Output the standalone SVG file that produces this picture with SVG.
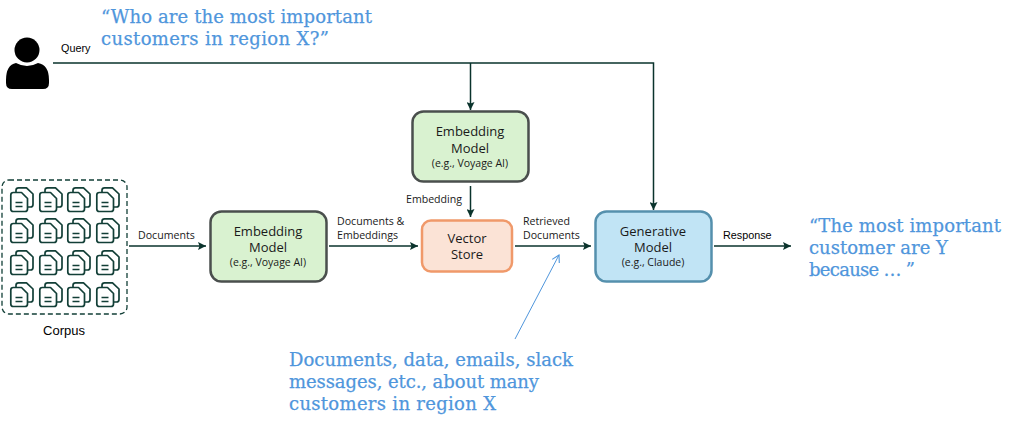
<svg xmlns="http://www.w3.org/2000/svg" width="1024" height="428" viewBox="0 0 1024 428">
<style>
.node{stroke-width:2.5}
.nt{font-family:"Open Sans","Noto Sans",sans-serif;font-size:13px;fill:#1a1a1a;text-anchor:middle}
.ns{font-family:"Open Sans","Noto Sans",sans-serif;font-size:10.5px;fill:#1a1a1a;text-anchor:middle}
.lb{font-family:"Open Sans","Noto Sans",sans-serif;font-size:10.6px;fill:#1a1a1a}
.q{font-family:"Liberation Sans",Arial,sans-serif;font-size:10.8px;fill:#000}
.bl{font-family:"DejaVu Serif",serif;font-size:18px;fill:#4f96dc;stroke:#4f96dc;stroke-width:.25}
.c{fill:none;stroke:#0a332c;stroke-width:1.5}
.d{fill:none;stroke:#123f37;stroke-width:1.7;stroke-linejoin:round}
</style>
<defs>
<marker id="a" markerUnits="userSpaceOnUse" markerWidth="9" markerHeight="8" refX="8" refY="4" orient="auto"><path d="M0 0L8 4L0 8L1.500 4Z" fill="#0a332c"/></marker>
<marker id="b" markerUnits="userSpaceOnUse" markerWidth="10" markerHeight="10" refX="8" refY="5" orient="auto"><path d="M1 1L8 5L1 9" fill="none" stroke="#4f96dc" stroke-width="1.100"/></marker>
<g id="doc">
<path class="d" d="M0.800 8Q0.800 5.500 3.300 5.500L11.500 5.500L17.500 11.500L17.500 22Q17.500 24.500 15 24.500L3.300 24.500Q0.800 24.500 0.800 22Z"/>
<path class="d" d="M6 5.500L6 3.300Q6 0.800 8.500 0.800L16.500 0.800L23 7L23 17.500Q23 20 20.500 20L17.500 20"/>
<path class="d" d="M5.500 15.500H12.500M5.500 19.500H12.500"/>
</g>
</defs>
<g id="connectors">
<path class="c" d="M53 63H653.500V210" marker-end="url(#a)"/>
<path class="c" d="M470.500 63V110" marker-end="url(#a)"/>
<path class="c" d="M470.500 186V217" marker-end="url(#a)"/>
<path class="c" d="M129 246H206" marker-end="url(#a)"/>
<path class="c" d="M329 246H418" marker-end="url(#a)"/>
<path class="c" d="M515 246H591" marker-end="url(#a)"/>
<path class="c" d="M714 246H791" marker-end="url(#a)"/>
<path d="M515 339L559 255" fill="none" stroke="#4f96dc" stroke-width="1" marker-end="url(#b)"/>
</g>
<text class="q" x="61" y="52">Query</text>
<text class="lb" x="138" y="239">Documents</text>
<text class="lb" x="337" y="225">Documents &amp;</text>
<text class="lb" x="337" y="239">Embeddings</text>
<text class="lb" x="406" y="203">Embedding</text>
<text class="lb" x="523" y="225">Retrieved</text>
<text class="lb" x="523" y="239">Documents</text>
<text class="q" x="723" y="239">Response</text>
<g id="user">
<circle cx="27" cy="50" r="12.500"/>
<path d="M16 63Q27 69 38 63Q49 65 49 80V83Q49 89 43 89H12Q6 89 6 83V80Q6 65 16 63Z"/>
</g>
<g id="corpus">
<rect x="2" y="180" width="125" height="134" rx="7" fill="none" stroke="#123f37" stroke-width="1.300" stroke-dasharray="5 3"/>
<use href="#doc" x="10" y="187"/><use href="#doc" x="39" y="187"/><use href="#doc" x="67" y="187"/><use href="#doc" x="96" y="187"/>
<use href="#doc" x="10" y="218"/><use href="#doc" x="39" y="218"/><use href="#doc" x="67" y="218"/><use href="#doc" x="96" y="218"/>
<use href="#doc" x="10" y="250"/><use href="#doc" x="39" y="250"/><use href="#doc" x="67" y="250"/><use href="#doc" x="96" y="250"/>
<use href="#doc" x="10" y="282"/><use href="#doc" x="39" y="282"/><use href="#doc" x="67" y="282"/><use href="#doc" x="96" y="282"/>
<text x="64" y="335" text-anchor="middle" font-family="'Liberation Sans',Arial,sans-serif" font-size="13" fill="#000">Corpus</text>
</g>
<g id="embed1">
<rect class="node" x="210.500" y="211.500" width="116" height="70" rx="11" fill="#d9f2d0" stroke="#4a4f4d"/>
<text class="nt" x="268" y="236">Embedding</text><text class="nt" x="268" y="252">Model</text><text class="ns" x="268" y="266">(e.g., Voyage AI)</text>
</g>
<g id="embed2">
<rect class="node" x="412.500" y="111.500" width="116" height="70" rx="11" fill="#d9f2d0" stroke="#4a4f4d"/>
<text class="nt" x="470" y="136">Embedding</text><text class="nt" x="470" y="153">Model</text><text class="ns" x="470" y="167">(e.g., Voyage AI)</text>
</g>
<g id="vector">
<rect class="node" x="422" y="220.500" width="90" height="51" rx="9" fill="#fbe3d6" stroke="#f0996a"/>
<text class="nt" x="467" y="243">Vector</text><text class="nt" x="467" y="259">Store</text>
</g>
<g id="generative">
<rect class="node" x="595.500" y="211.500" width="116" height="70" rx="11" fill="#c1e4f5" stroke="#5590ad"/>
<text class="nt" x="653" y="236">Generative</text><text class="nt" x="653" y="252">Model</text><text class="ns" x="653" y="266">(e.g., Claude)</text>
</g>
<g class="bl">
<text x="101" y="23" textLength="271">“Who are the most important</text>
<text x="101" y="45" textLength="228">customers in region X?”</text>
<text x="809" y="232" textLength="192">“The most important</text>
<text x="809" y="254" textLength="139">customer are Y</text>
<text x="809" y="276" textLength="106">because … ”</text>
<text x="289" y="366" textLength="284">Documents, data, emails, slack</text>
<text x="289" y="388" textLength="250">messages, etc., about many</text>
<text x="289" y="410" textLength="207">customers in region X</text>
</g>
</svg>
